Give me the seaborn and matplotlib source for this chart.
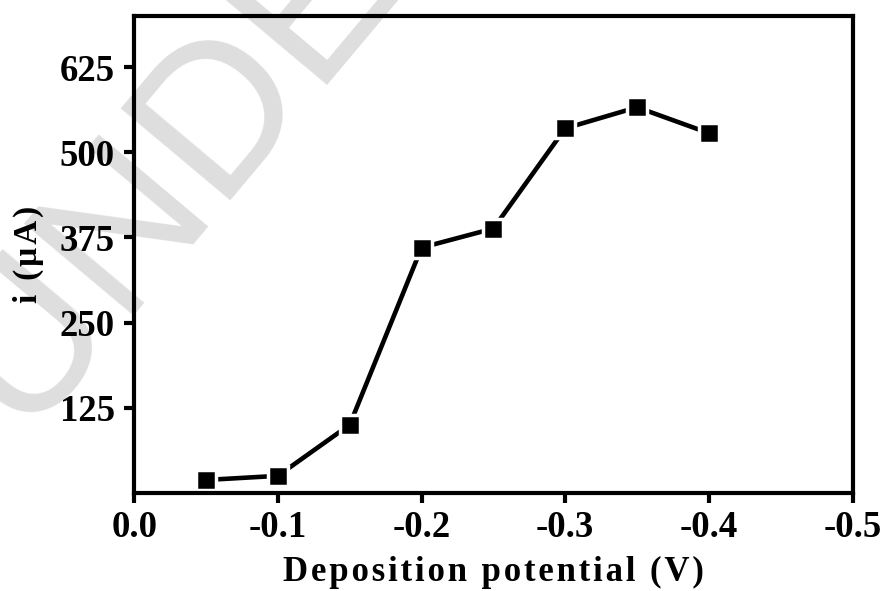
import matplotlib
matplotlib.use("Agg")
import matplotlib.pyplot as plt
import seaborn as sns
import pandas as pd

potential = [-0.05, -0.10, -0.15, -0.20, -0.25, -0.30, -0.35, -0.40]
current = [19, 25, 100, 360, 388, 535, 566, 528]
x_ticks = [0.0, -0.1, -0.2, -0.3, -0.4, -0.5]
x_tick_labels = ["0.0", "-0.1", "-0.2", "-0.3", "-0.4", "-0.5"]
y_ticks = [125, 250, 375, 500, 625]
x_label = "Deposition potential (V)"
y_label = "i (\u00b5A)"
watermark = "UNDER REVIEW"

df = pd.DataFrame({"potential": potential, "current": current})

sns.set_theme(style="white")
plt.rcParams["font.family"] = ["Liberation Serif", "DejaVu Serif"]
plt.rcParams["font.weight"] = "bold"
plt.rcParams["text.color"] = "black"
plt.rcParams["axes.labelcolor"] = "black"
plt.rcParams["xtick.color"] = "black"
plt.rcParams["ytick.color"] = "black"


def spaced(s):
    return "\u200a".join(s)


fig = plt.figure(figsize=(8.89, 5.91), dpi=100)
ax = fig.add_axes([0.151, 0.166, 0.808, 0.807])

# faint watermark behind everything
fig.text(0.03, 0.25, watermark, fontsize=150, color="#dedede",
         rotation=50, rotation_mode="anchor", ha="left", va="baseline",
         zorder=-5, family=["Liberation Sans", "DejaVu Sans"],
         fontweight="normal")
ax.patch.set_alpha(0)

sns.lineplot(data=df, x="potential", y="current", ax=ax, color="black",
             linewidth=3.3, marker="s", markersize=14, markeredgecolor="white",
             markeredgewidth=2.5, markerfacecolor="black")

ax.set_xlim(0.0, -0.5)
ax.set_ylim(0, 700)
ax.set_xticks(x_ticks)
ax.set_xticklabels(x_tick_labels)
ax.set_yticks(y_ticks)

for s in ax.spines.values():
    s.set_linewidth(3)
    s.set_color("black")
    s.set_visible(True)

ax.tick_params(axis="both", direction="out", length=7, width=3, color="black",
               labelcolor="black", labelsize=26.5, bottom=True, left=True)
ax.tick_params(axis="x", pad=5)
ax.tick_params(axis="y", pad=7)
for lab in ax.get_xticklabels() + ax.get_yticklabels():
    lab.set_fontweight("bold")

ax.set_xlabel(spaced(x_label), fontsize=25, fontweight="bold", labelpad=8,
              color="black")
ax.set_ylabel(spaced(y_label), fontsize=24, fontweight="bold", labelpad=11,
              color="black")

fig.savefig("out.png", dpi=100)
